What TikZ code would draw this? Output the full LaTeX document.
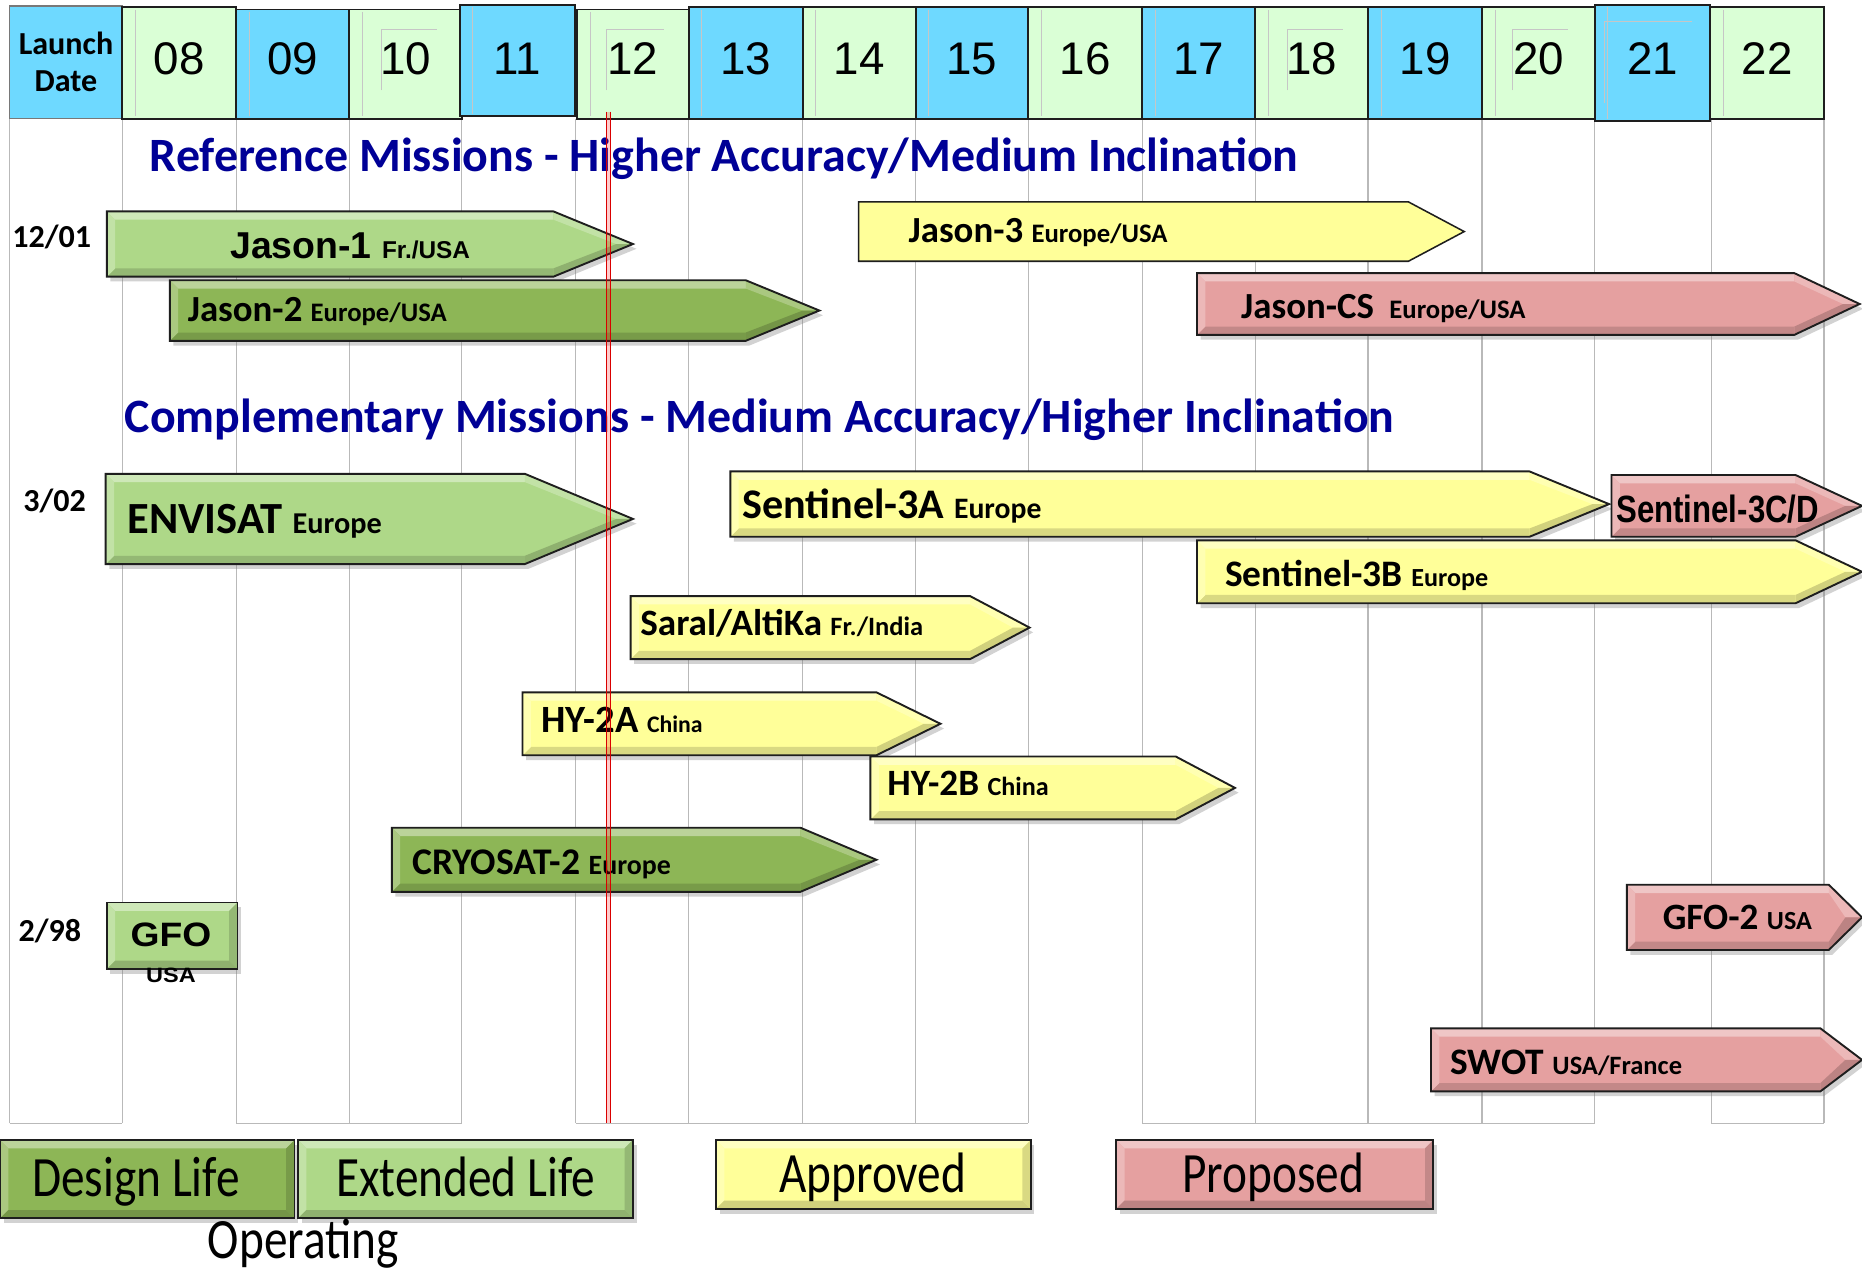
\documentclass[tikz,border=0pt]{standalone}
\usepackage{fontspec}
\usepackage{graphicx}
\setmainfont{Carlito}
\newfontfamily\arialf{Liberation Sans}
\usetikzlibrary{shadows}
\definecolor{lgreen}{RGB}{174,216,136}
\definecolor{dgreen}{RGB}{141,182,86}
\definecolor{yel}{RGB}{255,255,153}
\definecolor{pinkc}{RGB}{229,160,160}
\definecolor{hblue}{RGB}{110,217,255}
\definecolor{hgreen}{RGB}{218,255,214}
\definecolor{tblue}{RGB}{0,0,150}
\definecolor{gridc}{RGB}{185,185,185}
\definecolor{outc}{RGB}{30,30,30}
\newcommand\fs[1]{\fontsize{#1}{#1}\selectfont}
\newcommand\bvw{7}
\tikzset{
  shd/.style={drop shadow={opacity=0.35,shadow xshift=3pt,shadow yshift=-4pt}},
  outl/.style={draw=outc,line width=1.6},
  lab/.style={anchor=base west,inner sep=0pt,font=\bfseries},
  clab/.style={anchor=base,inner sep=0pt},
  hnum/.style={anchor=base,inner sep=0pt,font=\arialf\fs{38.5}},
  gridl/.style={draw=gridc,line width=0.9},
  faint/.style={draw=gray!45,line width=0.7},
  title/.style={anchor=base west,inner sep=0pt,font=\bfseries\fs{40.3},text=tblue},
  legt/.style={anchor=base,inner sep=0pt,font=\fs{48}},
}
% arrow bar: x1, y1, y2, x shoulder, x tip, colour
\newcommand\arrbar[6]{%
  \fill[#6,shd] (#1,#2) -- (#4,#2) -- (#5,{(#2+#3)/2}) -- (#4,#3) -- (#1,#3) -- cycle;
  \fill[#6!60!white] (#1,#2) -- (#4,#2) -- (#4,{#2+\bvw}) -- ({#1+\bvw},{#2+\bvw}) -- cycle;
  \fill[#6!75!white] (#4,#2) -- (#5,{(#2+#3)/2}) -- ({#5-2*\bvw},{(#2+#3)/2}) -- (#4,{#2+\bvw}) -- cycle;
  \fill[#6!82!black] (#5,{(#2+#3)/2}) -- (#4,#3) -- (#4,{#3-\bvw}) -- ({#5-2*\bvw},{(#2+#3)/2}) -- cycle;
  \fill[#6!85!black] (#4,#3) -- (#1,#3) -- ({#1+\bvw},{#3-\bvw}) -- (#4,{#3-\bvw}) -- cycle;
  \fill[#6!75!white] (#1,#2) -- ({#1+\bvw},{#2+\bvw}) -- ({#1+\bvw},{#3-\bvw}) -- (#1,#3) -- cycle;
  \draw[outl] (#1,#2) -- (#4,#2) -- (#5,{(#2+#3)/2}) -- (#4,#3) -- (#1,#3) -- cycle;
}
% rectangle bar: x1, y1, x2, y2, colour
\newcommand\recbar[5]{%
  \fill[#5,shd] (#1,#2) rectangle (#3,#4);
  \fill[#5!60!white] (#1,#2) -- (#3,#2) -- ({#3-\bvw},{#2+\bvw}) -- ({#1+\bvw},{#2+\bvw}) -- cycle;
  \fill[#5!75!white] (#1,#2) -- ({#1+\bvw},{#2+\bvw}) -- ({#1+\bvw},{#4-\bvw}) -- (#1,#4) -- cycle;
  \fill[#5!85!black] (#3,#2) -- (#3,#4) -- ({#3-\bvw},{#4-\bvw}) -- ({#3-\bvw},{#2+\bvw}) -- cycle;
  \fill[#5!82!black] (#1,#4) -- (#3,#4) -- ({#3-\bvw},{#4-\bvw}) -- ({#1+\bvw},{#4-\bvw}) -- cycle;
  \draw[outl] (#1,#2) rectangle (#3,#4);
}
\begin{document}
\begin{tikzpicture}[x=1pt,y=-1pt]
\useasboundingbox (0,0) rectangle (1568,1069);
\clip (0,0) rectangle (1568,1069);
\fill[white] (0,0) rectangle (1568,1069);
% grid
\foreach \gx in {8,103,199,294,389,485,580,676,771,866,962,1057,1152,1248,1343,1441,1536}
  \draw[gridl] (\gx,100) -- (\gx,946);
\foreach \ga/\gb in {8/103,199/389,485/866,962/1343,1441/1536}
  \draw[gridl,line width=1.4] (\ga,946) -- (\gb,946);
% header
\filldraw[fill=hblue,draw=outc!60,line width=1] (8,5) rectangle (103,100);
\node[clab,font=\bfseries\fs{27}] (ld1) at (55.6,45.5) {Launch};
\node[clab,font=\bfseries\fs{27}] (ld2) at (55.6,77.2) {Date};
\foreach \xa/\xb/\ya/\yb/\cc/\lab [count=\i] in {
  103/199/6/100/hgreen/08, 199/294/8/100/hblue/09, 294/389/8/100/hgreen/10,
  387/484/4/98/hblue/11, 486/580/8/100/hgreen/12, 580/676/6/100/hblue/13,
  676/771/6/100/hgreen/14, 771/866/6/100/hblue/15, 866/962/6/100/hgreen/16,
  962/1057/6/100/hblue/17, 1057/1152/6/100/hgreen/18, 1152/1248/6/100/hblue/19,
  1248/1343/6/100/hgreen/20, 1343/1440/4/102/hblue/21, 1440/1536/6/100/hgreen/22} {
  \filldraw[fill=\cc,draw=outc,line width=1.6] (\xa,\ya) rectangle (\xb,\yb);
  \draw[faint] ({\xa+11},{\ya+2}) -- ({\xa+11},{\yb-2});
  \node[hnum] (h\i) at ({(\xa+\xb)/2},62.5) {\lab};
}
% faint inner frames of some header cells
\foreach \fa/\fb in {321/368,511/559,1084/1131,1274/1320}
  \draw[faint] (\fa,76) -- (\fa,25) -- (\fb,25);
\draw[faint] (1351,87) -- (1351,18) -- (1425,18);
% titles
\node[title] (t1) at (126,144.6) {Reference Missions - Higher Accuracy/Medium Inclination};
\node[title] (t2) at (105,364) {Complementary Missions - Medium Accuracy/Higher Inclination};
% date labels
\node[clab,font=\bfseries\fs{27}] (d1) at (43.5,208) {12/01};
\node[clab,font=\bfseries\fs{27}] (d2) at (46,431) {3/02};
\node[clab,font=\bfseries\fs{27}] (d3) at (42,793) {2/98};
% bars
\arrbar{90}{178}{233}{466}{533}{lgreen}
\node[lab] (j1) at (193.7,218) {\arialf\fs{31.5}Jason-1 {\fs{20.5}Fr./USA}};
\arrbar{143}{236}{287}{628}{690}{dgreen}
\node[lab] (j2) at (158,271) {\fs{31}Jason-2 {\fs{22.5}Europe/USA}};
\filldraw[fill=yel,draw=outc,line width=1.3] (723,170) -- (1186,170) -- (1233,195) -- (1186,220) -- (723,220) -- cycle;
\node[lab] (j3) at (765,204) {\fs{31}Jason-3 {\fs{22.5}Europe/USA}};
\arrbar{1008}{230}{282}{1511}{1566}{pinkc}
\node[lab] (jcs) at (1045,268.5) {\fs{31}Jason-CS\hspace{6pt} {\fs{22.5}Europe/USA}};
\arrbar{89}{399}{475}{442}{533}{lgreen}
\node[lab] (env) at (107,449.5) {\fs{37.5}ENVISAT {\fs{25.5}Europe}};
\arrbar{615}{397}{452}{1288}{1355}{yel}
\node[lab] (s3a) at (625,437) {\fs{35.5}Sentinel-3A {\fs{25}Europe}};
\arrbar{1357}{400}{452}{1512}{1568}{pinkc}
\node[lab] (s3cd) at (1361,440) {\arialf\fs{32}\scalebox{0.82}[1]{Sentinel-3C/D}};
\arrbar{1008}{455}{508}{1512}{1568}{yel}
\node[lab] (s3b) at (1031.6,493.5) {\fs{31.5}Sentinel-3B {\fs{22}Europe}};
\arrbar{531}{502}{555}{817}{867}{yel}
\node[lab] (saral) at (539,535) {\fs{31.3}Saral/AltiKa {\fs{22.3}Fr./India}};
\arrbar{440}{583}{636}{738}{792}{yel}
\node[lab] (hy2a) at (455.6,616.5) {\fs{32.5}HY-2A {\fs{20}China}};
\arrbar{733}{637}{690}{990}{1040}{yel}
\node[lab] (hy2b) at (747,670) {\fs{31.3}HY-2B {\fs{22}China}};
\arrbar{330}{697}{751}{674}{738}{dgreen}
\node[lab] (cryo) at (347,736) {\fs{31.7}CRYOSAT-2 {\fs{23.5}Europe}};
\recbar{90}{760}{200}{816}{lgreen}
\node[clab,font=\arialf\bfseries] (gfo) at (144,797) {\fs{28.5}\scalebox{1.1}[1]{GFO}};
\node[clab,font=\arialf\bfseries] (gfousa) at (144,827.5) {\fs{17.5}\scalebox{1.13}[1]{USA}};
\arrbar{1370}{745}{800}{1540}{1568}{pinkc}
\node[lab] (gfo2) at (1400,782.5) {\fs{31.3}GFO-2 {\fs{22}USA}};
\arrbar{1205}{866}{919}{1533}{1568}{pinkc}
\node[lab] (swot) at (1221,904.5) {\fs{31.5}SWOT {\fs{22.3}USA/France}};
% red line (today)
\fill[red,opacity=0.2] (510.7,94) rectangle (514.3,946);
\draw[red!85!black,line width=0.8] (510.7,94) -- (510.7,946);
\draw[red!85!black,line width=0.8] (514.3,94) -- (514.3,946);
% legend
\recbar{0}{960}{248}{1026}{dgreen}
\recbar{251}{960}{533}{1026}{lgreen}
\recbar{603}{960}{868}{1018}{yel}
\recbar{940}{960}{1207}{1018}{pinkc}
\node[legt] (lg1) at (114.5,1007.5) {\scalebox{0.83}[1]{Design Life}};
\node[legt] (lg2) at (392,1007.5) {\scalebox{0.83}[1]{Extended Life}};
\node[legt] (lg3) at (735,1004) {\scalebox{0.83}[1]{Approved}};
\node[legt] (lg4) at (1072,1004) {\scalebox{0.83}[1]{Proposed}};
\node[legt] (op) at (255.5,1060) {\scalebox{0.83}[1]{Operating}};
\end{tikzpicture}
\end{document}
